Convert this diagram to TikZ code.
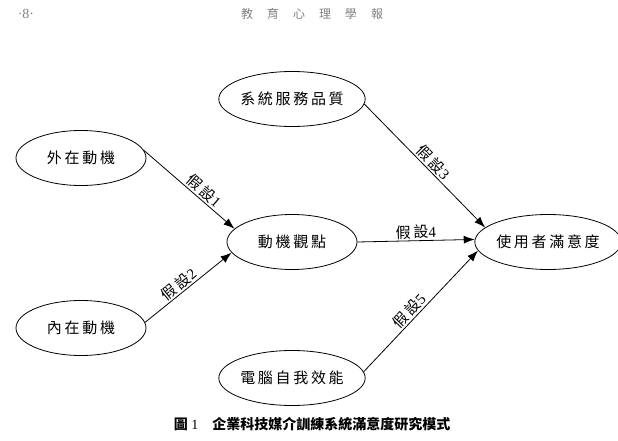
\documentclass[tikz,border=0pt]{standalone}
\usepackage{fontspec}
\setmainfont{Liberation Serif}
\newfontfamily\cjk{Noto Sans CJK TC}
\newfontfamily\cjkwide[LetterSpace=18]{Noto Sans CJK TC}
\usetikzlibrary{arrows.meta,shapes.geometric}

\tikzset{
  factor/.style={draw, line width=0.8pt, ellipse, minimum width=130pt,
    minimum height=55pt, inner sep=0pt, font=\cjkwide\fontsize{15}{17}\selectfont},
  hyp/.style={line width=0.8pt, -{Latex[length=11pt,width=8pt]}},
  hyplabel/.style={sloped, above, inner sep=1.5pt, font=\fontsize{15}{17}\selectfont}
}
\newcommand{\hyptext}[1]{{\cjkwide 假設}#1}

\begin{document}
\begin{tikzpicture}[x=1pt, y=-1pt, line join=round]
\useasboundingbox (0,0) rectangle (618,441);
% page header
\node[gray, font=\fontsize{14}{16}\selectfont] (page) at (26,14) {·8·};
\node[gray, font=\cjk\fontsize{12}{14}\selectfont] (journal) at (312,14)
  {教\hspace{14pt}育\hspace{14pt}心\hspace{14pt}理\hspace{14pt}學\hspace{14pt}報};
% antecedents
\node[factor] (wai) at (81,158) {外在動機};
\node[factor] (nei) at (81,328) {內在動機};
\node[factor] (xitong) at (292,99) {系統服務品質};
\node[factor] (dongji) at (292,242) {動機觀點};
\node[factor] (diannao) at (292,378) {電腦自我效能};
% outcome
\node[factor] (manyi) at (548,242) {使用者滿意度};
% hypotheses
\draw[hyp] (wai.7) -- node[hyplabel, pos=0.6] {\hyptext{1}} (dongji.167);
\draw[hyp] (nei.5) -- node[hyplabel, pos=0.45] {\hyptext{2}} (dongji.190);
\draw[hyp] (xitong.-4) -- node[hyplabel, pos=0.52] {\hyptext{3}} (manyi.167);
\draw[hyp] (dongji.east) -- node[hyplabel, pos=0.5] {\hyptext{4}} (manyi.178);
\draw[hyp] (diannao.5) -- node[hyplabel, pos=0.45] {\hyptext{5}} (manyi.187);
% caption
\node[font=\fontsize{14}{16}\selectfont] (caption) at (312,424)
  {{\cjk\bfseries 圖}\ 1\hspace{14pt}{\cjk\bfseries 企業科技媒介訓練系統滿意度研究模式}};
\end{tikzpicture}
\end{document}
